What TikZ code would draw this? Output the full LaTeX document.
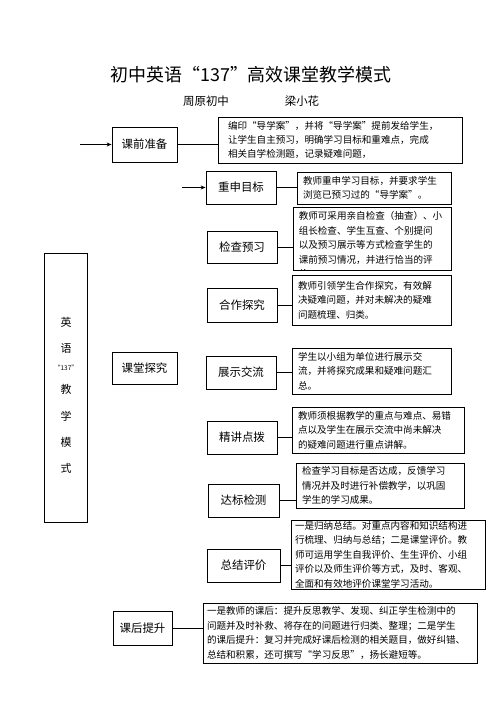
\documentclass[tikz,border=0pt]{standalone}
\usepackage{fontspec}
\setmainfont{Noto Sans CJK SC}
\usetikzlibrary{arrows.meta}
\tikzset{
  x=1bp, y=-1bp,
  box/.style={draw, line width=0.8bp, inner sep=0pt},
  lab/.style={box, font=\fontsize{11.5}{13}\selectfont},
  desc/.style={box, align=left, inner xsep=6bp, inner ysep=0pt,
    font=\fontsize{9.6}{14.5}\selectfont},
  descfont/.style={font=\fontsize{9.6}{14.5}\selectfont},
  conn/.style={line width=0.8bp},
  arr/.style={line width=0.8bp, -{Stealth[length=5bp,width=4bp]}},
  col/.style={font=\fontsize{11}{13}\selectfont}
}
\begin{document}
\begin{tikzpicture}
\useasboundingbox (0,0) rectangle (502,711);
% title
\node[font=\fontsize{18}{20}\selectfont] (title) at (251,75) {初中英语“137”高效课堂教学模式};
\node[font=\fontsize{11.5}{13}\selectfont] (school) at (206,101) {周原初中};
\node[font=\fontsize{11.5}{13}\selectfont] (author) at (302,101) {梁小花};
% left column
\node[box, minimum width=43bp, minimum height=269bp] (left) at (65.5,387.5) {};
\node[col] (c1) at (66,322) {英};
\node[col] (c2) at (66,348) {语};
\node[font=\fontsize{6.5}{8}\selectfont] (c3) at (66,368) {“137”};
\node[col] (c4) at (66,389) {教};
\node[col] (c5) at (66,416) {学};
\node[col] (c6) at (66,442) {模};
\node[col] (c7) at (66,468) {式};
% stages
\node[lab, minimum width=65bp, minimum height=35bp] (pre) at (144.5,144.5) {课前准备};
\node[lab, minimum width=65bp, minimum height=32bp] (mid) at (144.5,368) {课堂探究};
\node[lab, minimum width=59bp, minimum height=34bp] (post) at (142.5,628) {课后提升};
% description of pre
\node[desc, text width=224bp, inner xsep=10bp, minimum height=46bp] (d1) at (340,140)
 {编印“导学案”，并将“导学案”提前发给学生，\\让学生自主预习，明确学习目标和重难点，完成\\相关自学检测题，记录疑难问题，};
% classroom steps
\node[lab, minimum width=70bp, minimum height=33bp] (b1) at (241,187.5) {重申目标};
\node[lab, minimum width=70bp, minimum height=32bp] (b2) at (242,247) {检查预习};
\node[lab, minimum width=70bp, minimum height=34bp] (b3) at (242,305) {合作探究};
\node[lab, minimum width=70bp, minimum height=33bp] (b4) at (241,372.5) {展示交流};
\node[lab, minimum width=70bp, minimum height=33bp] (b5) at (242,437.5) {精讲点拨};
\node[lab, minimum width=71bp, minimum height=33bp] (b6) at (243.5,500.5) {达标检测};
\node[lab, minimum width=73bp, minimum height=33bp] (b7) at (243.5,565.5) {总结评价};
% descriptions
\node[desc, text width=142bp, minimum height=32bp] (d2) at (374,188)
 {教师重申学习目标，并要求学生\\浏览已预习过的“导学案”。};
\node[box, minimum width=158bp, minimum height=63bp] (d3) at (372,238.5) {};
\begin{scope}
\clip (d3.south west) rectangle (d3.north east);
\node[descfont, anchor=north west, inner sep=0pt, align=left] (d3t) at ([xshift=6bp,yshift=-5bp]d3.north west)
 {教师可采用亲自检查（抽查）、小\\组长检查、学生互查、个别提问\\以及预习展示等方式检查学生的\\课前预习情况，并进行恰当的评\\价};
\end{scope}
\node[desc, text width=147bp, minimum height=50bp] (d4) at (371.5,300)
 {教师引领学生合作探究，有效解\\决疑难问题，并对未解决的疑难\\问题梳理、归类。};
\node[desc, text width=147bp, minimum height=46bp] (d5) at (371.5,371)
 {学生以小组为单位进行展示交\\流，并将探究成果和疑难问题汇\\总。};
\node[desc, text width=160bp, minimum height=46bp] (d6) at (378,430)
 {教师须根据教学的重点与难点、易错\\点以及学生在展示交流中尚未解决\\的疑难问题进行重点讲解。};
\node[desc, text width=156bp, minimum height=45bp] (d7) at (380,485.5)
 {检查学习目标是否达成，反馈学习\\情况并及时进行补偿教学，以巩固\\学生的学习成果。};
\node[desc, text width=186bp, inner xsep=4bp, minimum height=69bp] (d8) at (388,554.5)
 {一是归纳总结。对重点内容和知识结构进\\行梳理、归纳与总结；二是课堂评价。教\\师可运用学生自我评价、生生评价、小组\\评价以及师生评价等方式，及时、客观、\\全面和有效地评价课堂学习活动。};
\node[desc, text width=266bp, inner xsep=4bp, minimum height=60bp] (d9) at (340,633)
 {一是教师的课后：提升反思教学、发现、纠正学生检测中的\\问题并及时补救、将存在的问题进行归类、整理；二是学生\\的课后提升：复习并完成好课后检测的相关题目，做好纠错、\\总结和积累，还可撰写“学习反思”，扬长避短等。};
% connectors
\draw[conn] (pre.east) -- (pre.east -| d1.west);
\draw[conn] (b1.east) -- (b1.east -| d2.west);
\draw[conn] (b2.east) -- (b2.east -| d3.west);
\draw[conn] (b3.east) -- (b3.east -| d4.west);
\draw[conn] (b4.east) -- (b4.east -| d5.west);
\draw[conn] (b5.east) -- (b5.east -| d6.west);
\draw[conn] (b6.east) -- (b6.east -| d7.west);
\draw[conn] (b7.east) -- (b7.east -| d8.west);
\draw[conn] (post.east) -- (post.east -| d9.west);
% arrow stubs
\coordinate (s1) at (80,144.5);
\coordinate (s2) at (182,187.5);
\draw[arr] (s1) -- (pre.west);
\draw[arr] (s2) -- (b1.west);
\end{tikzpicture}
\end{document}
